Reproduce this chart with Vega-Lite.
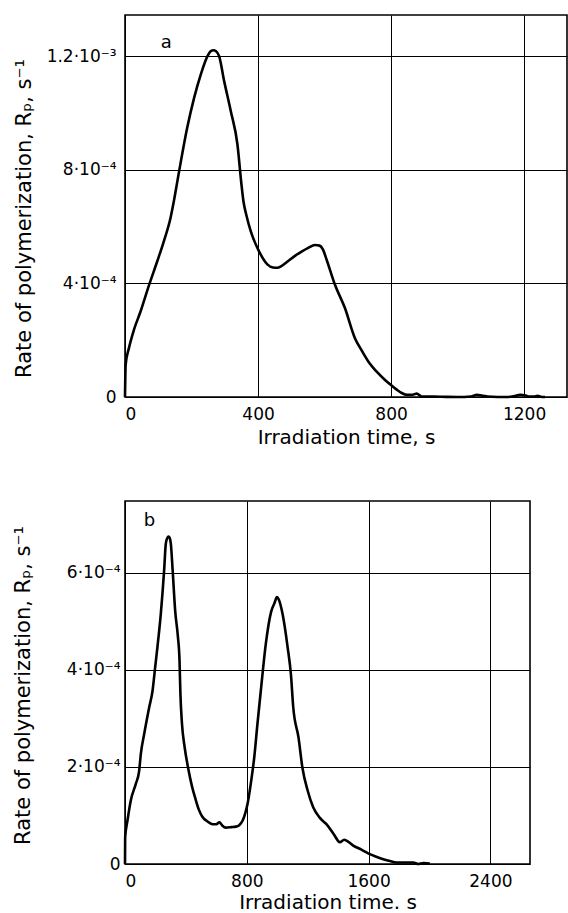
{
  "$schema": "https://vega.github.io/schema/vega-lite/v6.json",
  "background": "white",
  "padding": {"top": 14, "left": 11, "right": 0, "bottom": 0},
  "spacing": 52,
  "config": {
    "font": "DejaVu Sans",
    "view": {"stroke": "black", "strokeWidth": 1.6},
    "axis": {
      "labelFont": "DejaVu Sans",
      "titleFont": "DejaVu Sans",
      "labelColor": "black",
      "titleColor": "black",
      "labelFontSize": 17,
      "titleFontSize": 20,
      "titleFontWeight": "normal",
      "grid": true,
      "gridColor": "black",
      "gridOpacity": 1,
      "gridWidth": 1,
      "ticks": false,
      "domain": false,
      "labelPadding": 9
    }
  },
  "vconcat": [
    {
      "width": 442,
      "height": 382,
      "layer": [
        {
          "data": {"values": [
            {"t": 0, "rp": 0}, {"t": 2, "rp": 1.14e-4}, {"t": 12, "rp": 1.73e-4}, {"t": 27, "rp": 2.37e-4},
            {"t": 47, "rp": 3.02e-4}, {"t": 72, "rp": 3.93e-4}, {"t": 97, "rp": 4.78e-4}, {"t": 117, "rp": 5.49e-4},
            {"t": 137, "rp": 6.31e-4}, {"t": 147, "rp": 6.9e-4}, {"t": 162, "rp": 7.9e-4}, {"t": 187, "rp": 9.48e-4},
            {"t": 208, "rp": 1.054e-3}, {"t": 228, "rp": 1.136e-3}, {"t": 248, "rp": 1.2e-3}, {"t": 258, "rp": 1.218e-3},
            {"t": 266, "rp": 1.221e-3}, {"t": 273, "rp": 1.218e-3}, {"t": 283, "rp": 1.2e-3}, {"t": 298, "rp": 1.113e-3},
            {"t": 318, "rp": 1.007e-3}, {"t": 338, "rp": 8.9e-4}, {"t": 350, "rp": 7.5e-4}, {"t": 356, "rp": 6.9e-4},
            {"t": 365, "rp": 6.4e-4}, {"t": 378, "rp": 5.84e-4}, {"t": 403, "rp": 5.13e-4}, {"t": 428, "rp": 4.67e-4},
            {"t": 445, "rp": 4.56e-4}, {"t": 458, "rp": 4.55e-4}, {"t": 470, "rp": 4.61e-4}, {"t": 490, "rp": 4.78e-4},
            {"t": 510, "rp": 4.96e-4}, {"t": 531, "rp": 5.12e-4}, {"t": 551, "rp": 5.25e-4}, {"t": 571, "rp": 5.35e-4},
            {"t": 585, "rp": 5.33e-4}, {"t": 595, "rp": 5.2e-4}, {"t": 606, "rp": 4.84e-4}, {"t": 631, "rp": 3.96e-4},
            {"t": 661, "rp": 3.14e-4}, {"t": 691, "rp": 2.08e-4}, {"t": 711, "rp": 1.65e-4}, {"t": 731, "rp": 1.26e-4},
            {"t": 756, "rp": 0.9e-4}, {"t": 781, "rp": 0.61e-4}, {"t": 800, "rp": 0.42e-4}, {"t": 817, "rp": 0.26e-4},
            {"t": 832, "rp": 0.14e-4}, {"t": 847, "rp": 0.08e-4}, {"t": 865, "rp": 0.08e-4}, {"t": 877, "rp": 0.12e-4},
            {"t": 892, "rp": 0.02e-4}, {"t": 950, "rp": 0.01e-4}, {"t": 1000, "rp": 0}, {"t": 1040, "rp": 0.02e-4},
            {"t": 1058, "rp": 0.08e-4}, {"t": 1075, "rp": 0.04e-4}, {"t": 1090, "rp": 0.02e-4}, {"t": 1150, "rp": 0},
            {"t": 1170, "rp": 0.03e-4}, {"t": 1188, "rp": 0.08e-4}, {"t": 1205, "rp": 0.05e-4}, {"t": 1213, "rp": 0.02e-4},
            {"t": 1230, "rp": 0.02e-4}, {"t": 1240, "rp": 0.04e-4}, {"t": 1250, "rp": 0.01e-4}, {"t": 1263, "rp": 0}
          ]},
          "mark": {"type": "line", "color": "black", "strokeWidth": 2.6, "interpolate": "monotone"},
          "encoding": {
            "x": {"field": "t", "type": "quantitative",
              "scale": {"domain": [0, 1329], "nice": false, "zero": false},
              "axis": {"values": [0, 400, 800, 1200], "format": "d", "title": "Irradiation time, s", "titlePadding": 5}},
            "y": {"field": "rp", "type": "quantitative",
              "scale": {"domain": [0, 0.001345], "nice": false},
              "axis": {"values": [0, 0.0004, 0.0008, 0.0012],
                "labelExpr": "datum.value === 0 ? '0' : (abs(datum.value - 0.0012) < 1e-6 ? '1.2·10⁻³' : round(datum.value * 10000) + '·10⁻⁴')",
                "labelPadding": 9,
                "title": "Rate of polymerization, Rₚ, s⁻¹", "titleFontSize": 21, "titlePadding": 12, "titleY": 203}}
          }
        },
        {
          "data": {"values": [{"t": 124, "rp": 0.001247, "label": "a"}]},
          "mark": {"type": "text", "fontSize": 18, "color": "black", "align": "center", "baseline": "middle"},
          "encoding": {
            "x": {"field": "t", "type": "quantitative"},
            "y": {"field": "rp", "type": "quantitative"},
            "text": {"field": "label"}
          }
        }
      ]
    },
    {
      "width": 405,
      "height": 363,
      "layer": [
        {
          "data": {"values": [
            {"t": 0, "rp": 0}, {"t": 1, "rp": 0.55e-4}, {"t": 16, "rp": 0.89e-4}, {"t": 38, "rp": 1.31e-4},
            {"t": 71, "rp": 1.65e-4}, {"t": 93, "rp": 1.92e-4}, {"t": 104, "rp": 2.27e-4}, {"t": 126, "rp": 2.68e-4},
            {"t": 159, "rp": 3.23e-4}, {"t": 181, "rp": 3.57e-4}, {"t": 198, "rp": 4.05e-4}, {"t": 213, "rp": 4.47e-4},
            {"t": 235, "rp": 5.15e-4}, {"t": 257, "rp": 6.05e-4}, {"t": 268, "rp": 6.6e-4}, {"t": 278, "rp": 6.72e-4},
            {"t": 286, "rp": 6.75e-4}, {"t": 294, "rp": 6.72e-4}, {"t": 301, "rp": 6.6e-4}, {"t": 313, "rp": 6.05e-4},
            {"t": 330, "rp": 5.2e-4}, {"t": 347, "rp": 4.7e-4}, {"t": 358, "rp": 4.2e-4}, {"t": 364, "rp": 3.5e-4},
            {"t": 374, "rp": 2.9e-4}, {"t": 392, "rp": 2.4e-4}, {"t": 414, "rp": 1.99e-4}, {"t": 440, "rp": 1.6e-4},
            {"t": 462, "rp": 1.35e-4}, {"t": 485, "rp": 1.12e-4}, {"t": 507, "rp": 0.98e-4}, {"t": 540, "rp": 0.88e-4},
            {"t": 575, "rp": 0.82e-4}, {"t": 600, "rp": 0.82e-4}, {"t": 620, "rp": 0.86e-4}, {"t": 640, "rp": 0.79e-4},
            {"t": 662, "rp": 0.75e-4}, {"t": 700, "rp": 0.76e-4}, {"t": 728, "rp": 0.77e-4}, {"t": 750, "rp": 0.8e-4},
            {"t": 772, "rp": 0.89e-4}, {"t": 790, "rp": 1.05e-4}, {"t": 805, "rp": 1.24e-4}, {"t": 826, "rp": 1.65e-4},
            {"t": 849, "rp": 2.2e-4}, {"t": 870, "rp": 2.89e-4}, {"t": 892, "rp": 3.57e-4}, {"t": 925, "rp": 4.54e-4},
            {"t": 960, "rp": 5.2e-4}, {"t": 982, "rp": 5.38e-4}, {"t": 998, "rp": 5.5e-4}, {"t": 1010, "rp": 5.45e-4},
            {"t": 1035, "rp": 5.15e-4}, {"t": 1068, "rp": 4.47e-4}, {"t": 1090, "rp": 3.9e-4}, {"t": 1105, "rp": 3.23e-4},
            {"t": 1140, "rp": 2.6e-4}, {"t": 1165, "rp": 1.99e-4}, {"t": 1200, "rp": 1.51e-4}, {"t": 1236, "rp": 1.17e-4},
            {"t": 1280, "rp": 0.95e-4}, {"t": 1323, "rp": 0.82e-4}, {"t": 1370, "rp": 0.62e-4}, {"t": 1411, "rp": 0.45e-4},
            {"t": 1440, "rp": 0.5e-4}, {"t": 1455, "rp": 0.48e-4}, {"t": 1499, "rp": 0.38e-4}, {"t": 1550, "rp": 0.3e-4},
            {"t": 1597, "rp": 0.22e-4}, {"t": 1650, "rp": 0.15e-4}, {"t": 1696, "rp": 0.1e-4}, {"t": 1740, "rp": 0.06e-4},
            {"t": 1783, "rp": 0.03e-4}, {"t": 1850, "rp": 0.03e-4}, {"t": 1893, "rp": 0.03e-4}, {"t": 1926, "rp": 0},
            {"t": 1960, "rp": 0.02e-4}, {"t": 2002, "rp": 0.01e-4}
          ]},
          "mark": {"type": "line", "color": "black", "strokeWidth": 2.6, "interpolate": "monotone"},
          "encoding": {
            "x": {"field": "t", "type": "quantitative",
              "scale": {"domain": [0, 2660], "nice": false, "zero": false},
              "axis": {"values": [0, 800, 1600, 2400], "format": "d", "title": "Irradiation time. s", "titlePadding": 3}},
            "y": {"field": "rp", "type": "quantitative",
              "scale": {"domain": [0, 0.000748], "nice": false},
              "axis": {"values": [0, 0.0002, 0.0004, 0.0006],
                "labelExpr": "datum.value === 0 ? '0' : round(datum.value * 10000) + '·10⁻⁴'",
                "labelPadding": 5,
                "title": "Rate of polymerization, Rₚ, s⁻¹", "titleFontSize": 21, "titlePadding": 33, "titleY": 184}}
          }
        },
        {
          "data": {"values": [{"t": 161, "rp": 0.000706, "label": "b"}]},
          "mark": {"type": "text", "fontSize": 18, "color": "black", "align": "center", "baseline": "middle"},
          "encoding": {
            "x": {"field": "t", "type": "quantitative"},
            "y": {"field": "rp", "type": "quantitative"},
            "text": {"field": "label"}
          }
        }
      ]
    }
  ]
}
